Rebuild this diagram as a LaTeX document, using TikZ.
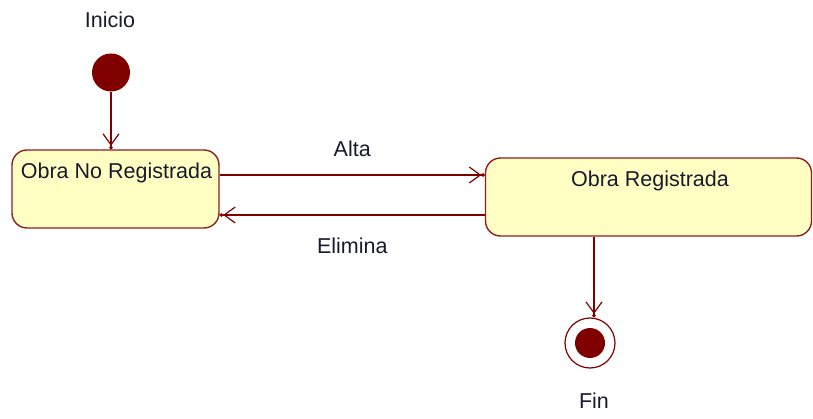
\documentclass[tikz,border=0pt]{standalone}
\usepackage{fontspec}
\setmainfont{Liberation Sans}
\usetikzlibrary{arrows.meta}
\definecolor{dred}{HTML}{800000}
\definecolor{bred}{HTML}{8E2020}
\definecolor{pyel}{HTML}{FFFFC4}
\definecolor{txt}{HTML}{1A1A2E}
\begin{document}
\begin{tikzpicture}[x=1pt,y=-1pt,
  lbl/.style={font=\fontsize{21.5}{24}\selectfont, text=txt, inner sep=0pt},
  state/.style={draw=bred, fill=pyel, line width=1.4pt, rounded corners=15pt, inner sep=0pt},
  trans/.style={draw=dred, line width=1.4pt, -{Straight Barb[length=11pt,width=16pt,line width=1.2pt]Circle[length=3.5pt]}}]
\useasboundingbox (0,0) rectangle (813,419);
\fill[white] (0,0) rectangle (813,419);
% initial
\node[circle, fill=dred, minimum size=38pt, inner sep=0pt] (ini) at (111,72.5) {};
\node[lbl] (initxt) at (110,20) {Inicio};
% states
\node[state, minimum width=207pt, minimum height=78pt] (nr) at (115.5,189) {};
\node[lbl] (nrtxt) at (116.5,173) {Obra No Registrada};
\node[state, minimum width=326pt, minimum height=78pt] (or) at (648.5,197) {};
\node[lbl] (ortxt) at (650,181) {Obra Registrada};
% final
\node[circle, draw=dred, line width=1.2pt, fill=white, minimum size=50pt, inner sep=0pt] (fin) at (590,343) {};
\node[circle, fill=dred, minimum size=30pt, inner sep=0pt] (finin) at (590,343) {};
\node[lbl] (fintxt) at (594,401) {Fin};
% transitions
\draw[trans] (ini.south) -- (ini.south |- nr.north);
\draw[trans] ([yshift=14pt]nr.east) -- node[lbl, above=18pt] (alta) {Alta} ([yshift=22pt]or.west);
\draw[trans] ([yshift=-18pt]or.west) -- node[lbl, below=22pt] (elim) {Elimina} ([yshift=-26pt]nr.east);
\draw[trans] ([xshift=-54.5pt]or.south) -- ([xshift=4pt]fin.north);
\end{tikzpicture}
\end{document}
